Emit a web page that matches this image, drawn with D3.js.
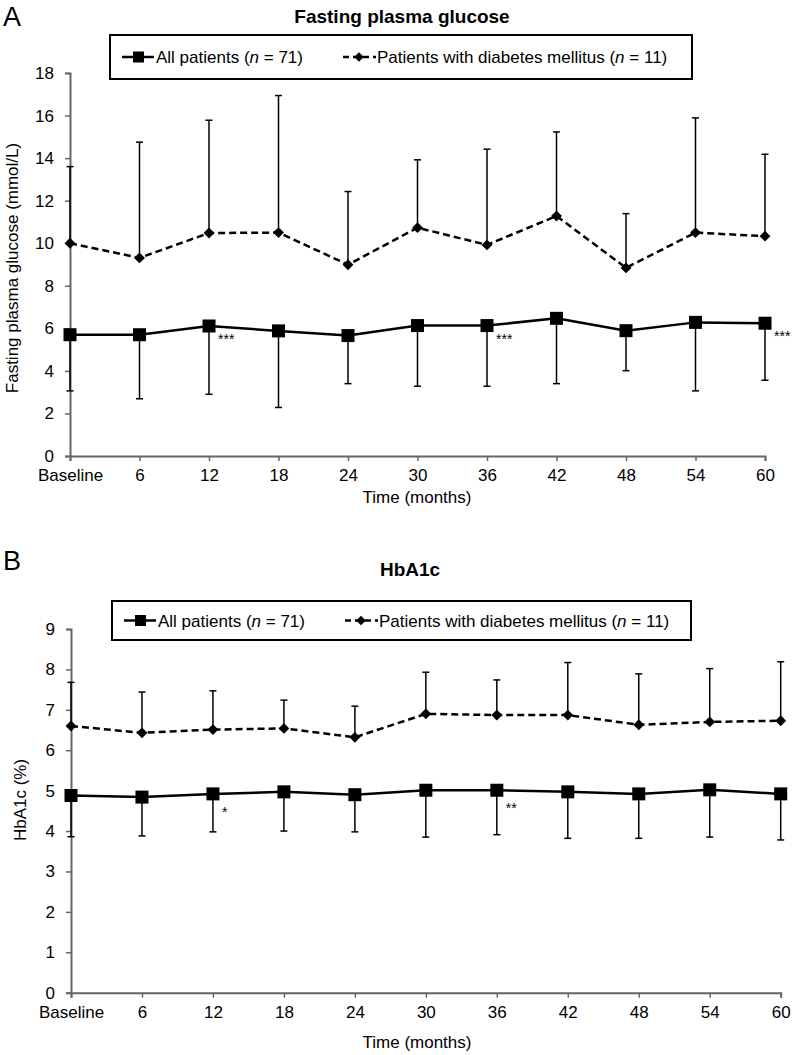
<!DOCTYPE html>
<html><head><meta charset="utf-8">
<script src="https://cdn.jsdelivr.net/npm/d3@7"></script>
<style>body{margin:0;background:#fff}svg{display:block}text{font-family:"Liberation Sans",Arial,sans-serif}</style>
</head><body>
<svg id="c" width="793" height="1055"></svg>
<script>
const timeLabels = ["Baseline","6","12","18","24","30","36","42","48","54","60"];

// Panel A: fasting plasma glucose (mmol/L)
const fpgAll      = [5.70,5.70,6.11,5.88,5.66,6.13,6.13,6.47,5.89,6.28,6.24];
const fpgAllLow   = [3.06,2.69,2.90,2.28,3.40,3.28,3.28,3.40,4.01,3.06,3.56];
const fpgDM       = [10.0,9.31,10.48,10.5,8.99,10.73,9.92,11.28,8.84,10.5,10.33];
const fpgDMHigh   = [13.6,14.75,15.78,16.94,12.43,13.92,14.42,15.23,11.39,15.89,14.18];
const fpgSig      = ["","","***","","","","***","","","","***"];
const fpgTicks    = [0,2,4,6,8,10,12,14,16,18];

// Panel B: HbA1c (%)
const hbAll       = [4.88,4.84,4.92,4.97,4.90,5.01,5.01,4.97,4.92,5.02,4.92];
const hbAllLow    = [3.86,3.88,3.98,4.00,3.98,3.85,3.91,3.82,3.82,3.85,3.78];
const hbDM        = [6.60,6.43,6.51,6.54,6.32,6.90,6.87,6.87,6.63,6.70,6.73];
const hbDMHigh    = [7.68,7.44,7.47,7.24,7.09,7.93,7.74,8.17,7.89,8.02,8.19];
const hbSig       = ["","","*","","","","**","","","",""];
const hbTicks     = [0,1,2,3,4,5,6,7,8,9];

const svg = d3.select("#c");

function panel(o){
  const g = svg.append("g");
  const x = d3.scalePoint().domain(timeLabels).range([o.x0, o.x1]);
  const y = d3.scaleLinear().domain([o.ticks[0], o.ticks[o.ticks.length-1]]).range([o.y0, o.y1]);

  // letter + title
  g.append("text").attr("x",3).attr("y",o.letterY).attr("font-size",27).text(o.letter);
  g.append("text").attr("x",o.titleX).attr("y",o.titleY).attr("text-anchor","middle")
    .attr("font-size",19).attr("font-weight","bold").text(o.title);

  // legend
  const L = o.legend;
  g.append("rect").attr("x",L.x).attr("y",L.y).attr("width",L.w).attr("height",L.h)
    .attr("fill","none").attr("stroke","#000").attr("stroke-width",2);
  const ly = L.y + L.h/2;
  g.append("line").attr("x1",L.x+12).attr("x2",L.x+44).attr("y1",ly).attr("y2",ly).attr("stroke","#000").attr("stroke-width",2.5);
  g.append("rect").attr("x",L.x+23).attr("y",ly-5.5).attr("width",11).attr("height",11).attr("fill","#000");
  g.append("text").attr("x",L.x+46).attr("y",ly+6).attr("font-size",17)
    .call(t=>{t.append("tspan").text("All patients (");t.append("tspan").attr("font-style","italic").text("n");t.append("tspan").text(" = 71)");});
  g.append("line").attr("x1",L.x+233).attr("x2",L.x+266).attr("y1",ly).attr("y2",ly).attr("stroke","#000").attr("stroke-width",2.5).attr("stroke-dasharray","6,4");
  g.append("path").attr("d",d3.symbol(d3.symbolDiamond2,60)()).attr("transform",`translate(${L.x+249},${ly})`).attr("fill","#000");
  g.append("text").attr("x",L.x+267).attr("y",ly+6).attr("font-size",17)
    .call(t=>{t.append("tspan").text("Patients with diabetes mellitus (");t.append("tspan").attr("font-style","italic").text("n");t.append("tspan").text(" = 11)");});

  // axes
  const ya = g.append("g").attr("transform",`translate(${o.x0},0)`)
    .call(d3.axisLeft(y).tickValues(o.ticks).tickSize(5).tickPadding(11).tickFormat(d3.format("d")));
  ya.select(".domain").attr("stroke","#666").attr("stroke-width",2);
  ya.selectAll(".tick line").attr("stroke","#666").attr("stroke-width",1.5);
  ya.selectAll("text").attr("font-size",17).attr("fill","#000").style("font-family","'Liberation Sans',Arial,sans-serif");
  const xa = g.append("g").attr("transform",`translate(0,${o.y0})`)
    .call(d3.axisBottom(x).tickSize(5).tickPadding(8));
  xa.select(".domain").attr("stroke","#666").attr("stroke-width",2);
  xa.selectAll(".tick line").attr("stroke","#666").attr("stroke-width",1.5);
  xa.selectAll("text").attr("font-size",17).attr("fill","#000").style("font-family","'Liberation Sans',Arial,sans-serif");

  g.append("text").attr("x",417).attr("y",o.xTitleY).attr("text-anchor","middle").attr("font-size",17).text("Time (months)");
  g.append("text").attr("transform",`translate(${o.yTitleX},${o.yTitleY}) rotate(-90)`).attr("text-anchor","middle").attr("font-size",17).text(o.yTitle);

  // error bars
  const cap = 3.5;
  const eb = (vals, ends) => {
    timeLabels.forEach((t,i)=>{
      const cx = x(t);
      g.append("line").attr("x1",cx).attr("x2",cx).attr("y1",y(vals[i])).attr("y2",y(ends[i])).attr("stroke","#000").attr("stroke-width",1.5);
      g.append("line").attr("x1",cx-cap).attr("x2",cx+cap).attr("y1",y(ends[i])).attr("y2",y(ends[i])).attr("stroke","#000").attr("stroke-width",1.5);
    });
  };
  eb(o.dm, o.dmHigh);
  eb(o.all, o.allLow);

  const line = d3.line().x((d,i)=>x(timeLabels[i])).y(d=>y(d));
  g.append("path").datum(o.dm).attr("d",line).attr("fill","none").attr("stroke","#000").attr("stroke-width",2.5).attr("stroke-dasharray","7,4");
  g.append("path").datum(o.all).attr("d",line).attr("fill","none").attr("stroke","#000").attr("stroke-width",2.5);

  g.selectAll(null).data(o.dm).enter().append("path")
    .attr("d",d3.symbol(d3.symbolDiamond2,75)()).attr("transform",(d,i)=>`translate(${x(timeLabels[i])},${y(d)})`).attr("fill","#000");
  g.selectAll(null).data(o.all).enter().append("rect")
    .attr("x",(d,i)=>x(timeLabels[i])-6.5).attr("y",d=>y(d)-6.5).attr("width",13).attr("height",13).attr("fill","#000");

  g.selectAll(null).data(o.sig).enter().append("text")
    .attr("x",(d,i)=>x(timeLabels[i])+9).attr("y",(d,i)=>y(o.all[i])+o.sigDy).attr("font-size",14).text(d=>d);
}

panel({letter:"A", letterY:26, title:"Fasting plasma glucose", titleX:402, titleY:23,
  legend:{x:110,y:35,w:582,h:44},
  x0:70, x1:765, y0:456, y1:73, ticks:fpgTicks,
  xTitleY:503, yTitleX:18, yTitleY:268, yTitle:"Fasting plasma glucose (mmol/L)",
  all:fpgAll, allLow:fpgAllLow, dm:fpgDM, dmHigh:fpgDMHigh, sig:fpgSig, sigDy:18});

panel({letter:"B", letterY:570, title:"HbA1c", titleX:410, titleY:576,
  legend:{x:112,y:601,w:579,h:39},
  x0:71, x1:780.7, y0:992.7, y1:629, ticks:hbTicks,
  xTitleY:1048, yTitleX:26, yTitleY:800, yTitle:"HbA1c (%)",
  all:hbAll, allLow:hbAllLow, dm:hbDM, dmHigh:hbDMHigh, sig:hbSig, sigDy:23});
</script>
</body></html>
